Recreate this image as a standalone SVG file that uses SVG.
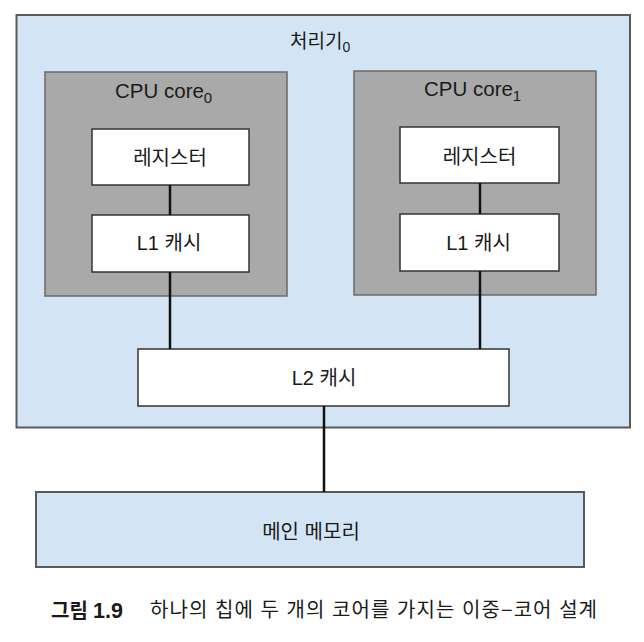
<svg xmlns="http://www.w3.org/2000/svg" width="644" height="642" viewBox="0 0 644 642">
  <style>
    .blue { fill: #d3e5f5; stroke: #5a5a5a; stroke-width: 2; }
    .core { fill: #a9a9a9; stroke: #6a6a6a; stroke-width: 1.5; }
    .white { fill: #ffffff; stroke: #333333; stroke-width: 1.5; }
    .conn { stroke: #111111; stroke-width: 2.5; fill: none; }
    text { font-family: "Liberation Sans", "Noto Sans CJK KR", sans-serif; fill: #1a1a1a; }
    .ko { font-size: 20px; text-anchor: middle; }
    .lat { font-size: 20.5px; }
  </style>
  <rect width="644" height="642" fill="#ffffff"/>

  <g id="processor">
    <rect class="blue" x="16.5" y="15" width="613.5" height="412.5"/>
    <text x="290" y="48" style="font-size:19px">처리기<tspan font-size="14" dy="4">0</tspan></text>
  </g>

  <g id="core0">
    <rect class="core" x="45" y="72" width="242" height="224"/>
    <text class="lat" x="115" y="98">CPU core<tspan font-size="15" dy="5">0</tspan></text>
  </g>
  <g id="core1">
    <rect class="core" x="354" y="71" width="242" height="224"/>
    <text class="lat" x="424" y="96">CPU core<tspan font-size="15" dy="5">1</tspan></text>
  </g>

  <g id="reg0">
    <rect class="white" x="92" y="129" width="157" height="56"/>
    <text class="ko" x="170" y="165">레지스터</text>
  </g>
  <g id="l1_0">
    <rect class="white" x="92" y="215" width="157" height="57"/>
    <text class="ko" x="169" y="250">L1 캐시</text>
  </g>
  <g id="reg1">
    <rect class="white" x="400" y="127" width="159" height="56"/>
    <text class="ko" x="479.5" y="164">레지스터</text>
  </g>
  <g id="l1_1">
    <rect class="white" x="400" y="214" width="159" height="57"/>
    <text class="ko" x="478.5" y="250">L1 캐시</text>
  </g>

  <g id="l2">
    <rect class="white" x="138" y="349" width="371" height="57"/>
    <text class="ko" x="324" y="385">L2 캐시</text>
  </g>

  <g id="memory">
    <rect class="blue" x="36" y="492" width="548" height="75"/>
    <text class="ko" x="311" y="539">메인 메모리</text>
  </g>

  <g id="connectors">
    <line class="conn" x1="170" y1="185" x2="170" y2="215"/>
    <line class="conn" x1="170" y1="272" x2="170" y2="349"/>
    <line class="conn" x1="480" y1="183" x2="480" y2="214"/>
    <line class="conn" x1="480" y1="271" x2="480" y2="349"/>
    <line class="conn" x1="324" y1="406" x2="324" y2="492"/>
  </g>

  <g id="caption">
    <text x="51" y="618" style="font-size:20px;font-weight:bold">그림</text>
    <text x="93" y="618" style="font-size:21.5px;font-weight:bold">1.9</text>
    <text x="150" y="617" style="font-size:20px" textLength="447" lengthAdjust="spacing">하나의 칩에 두 개의 코어를 가지는 이중−코어 설계</text>
  </g>
</svg>
